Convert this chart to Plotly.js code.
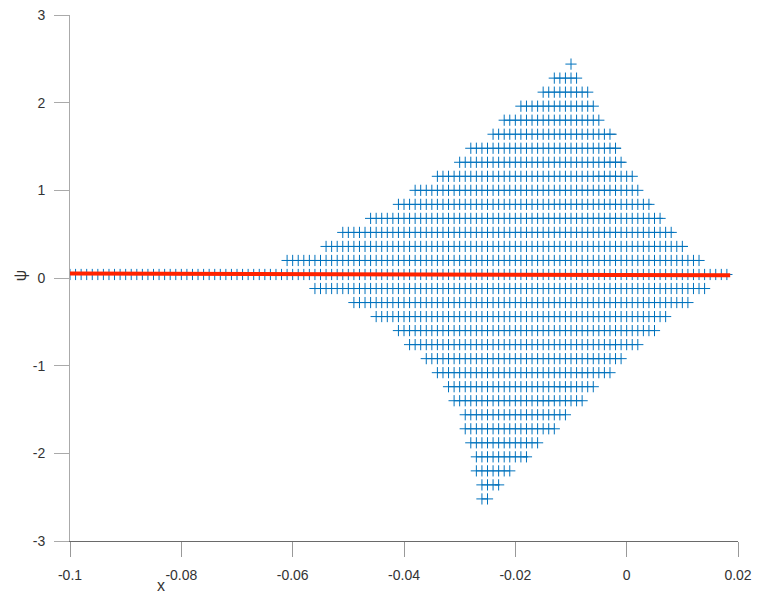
<!DOCTYPE html>
<html>
<head>
<meta charset="utf-8">
<script src="https://cdn.plot.ly/plotly-3.0.1.min.js"></script>
<style>html,body{margin:0;padding:0;background:#fff;}#chart{width:757px;height:596px;}</style>
</head>
<body>
<div id="chart"></div>
<script>
// ---- data ----
// Each row of "+" markers: psi level, first and last x (markers every 0.001 in x)
const rowPsi = [2.44, 2.28, 2.12, 1.96, 1.80, 1.64, 1.48, 1.32, 1.16, 1.00, 0.84, 0.68, 0.52, 0.36, 0.20, 0.04,
                -0.12, -0.28, -0.44, -0.60, -0.76, -0.92, -1.08, -1.24, -1.40, -1.56, -1.72, -1.88, -2.04, -2.20, -2.36, -2.52];
const rowXStart = [-0.010, -0.013, -0.015, -0.019, -0.022, -0.024, -0.028, -0.030, -0.034, -0.038, -0.041, -0.046, -0.051, -0.054, -0.061, -0.100,
                   -0.056, -0.049, -0.045, -0.041, -0.039, -0.036, -0.034, -0.032, -0.031, -0.029, -0.029, -0.028, -0.027, -0.027, -0.026, -0.026];
const rowXEnd = [-0.010, -0.009, -0.007, -0.006, -0.005, -0.003, -0.002, -0.001, 0.001, 0.002, 0.004, 0.006, 0.008, 0.010, 0.013, 0.018,
                 0.014, 0.011, 0.007, 0.005, 0.002, -0.001, -0.003, -0.006, -0.008, -0.011, -0.013, -0.016, -0.018, -0.021, -0.023, -0.025];
const markerStep = 0.001;

// darker horizontal runs inside some rows
const segPsi = [1.64, 1.48, 1.32, 1.16, 1.00, 0.84, 0.84, 0.68, 0.68, 0.52, 0.52, 0.36, 0.36, 0.20, 0.20,
                -0.12, -0.12, -0.12, -0.28, -0.28, -0.28, -0.44, -0.44, -0.60, -0.60, -0.76, -0.92, -1.08, -1.24, -1.40, -2.04, -2.36];
const segX0 = [-0.0036, -0.0036, -0.0036, -0.0057, -0.0088, -0.0138, 0.0035, -0.0178, 0.0055, -0.0200, 0.0075, 0.0002, 0.0092, -0.0027, 0.0095,
               -0.0097, 0.0068, 0.0126, -0.0190, 0.0034, 0.0084, -0.0160, 0.0024, -0.0100, -0.0007, -0.0036, -0.0068, -0.0088, -0.0126, -0.0158, -0.0187, -0.0237];
const segX1 = [-0.0018, -0.0010, -0.0002, -0.0018, -0.0018, -0.0018, 0.0045, -0.0018, 0.0065, -0.0009, 0.0085, 0.0054, 0.0110, 0.0054, 0.0127,
               0.0029, 0.0078, 0.0135, 0.0002, 0.0042, 0.0094, -0.0027, 0.0034, -0.0048, 0.0002, -0.0018, -0.0048, -0.0068, -0.0099, -0.0129, -0.0177, -0.0228];

// red line
const redX = [-0.1, 0.0186];
const redY = [0.05, 0.03];

// axis ticks
const xTickVals = [-0.1, -0.08, -0.06, -0.04, -0.02, 0, 0.02];
const xTickText = ['-0.1', '-0.08', '-0.06', '-0.04', '-0.02', '0', '0.02'];
const yTickVals = [-3, -2, -1, 0, 1, 2, 3];
const yTickText = ['-3', '-2', '-1', '0', '1', '2', '3'];

// ---- build traces ----
const px = [], py = [];
for (let i = 0; i < rowPsi.length; i++) {
  const n = Math.round((rowXEnd[i] - rowXStart[i]) / markerStep);
  for (let j = 0; j <= n; j++) {
    px.push(+(rowXStart[i] + j * markerStep).toFixed(4));
    py.push(rowPsi[i]);
  }
}
const sx = [], sy = [];
for (let i = 0; i < segPsi.length; i++) {
  sx.push(segX0[i], segX1[i], null);
  sy.push(segPsi[i], segPsi[i], null);
}

const blue = 'rgb(0,114,189)';
const traces = [
  {x: sx, y: sy, mode: 'lines', line: {color: 'rgb(0,95,160)', width: 1}, hoverinfo: 'skip', showlegend: false},
  {x: px, y: py, mode: 'markers', marker: {symbol: 'cross-thin', size: 8, line: {color: blue, width: 1}, color: blue}, showlegend: false},
  {x: redX, y: redY, mode: 'lines', line: {color: 'rgb(255,35,0)', width: 4}, showlegend: false}
];

const font = {family: '"Liberation Sans", Arial, Helvetica, sans-serif', size: 14, color: '#333'};
const layout = {
  width: 757, height: 596,
  margin: {l: 70, r: 19, t: 15, b: 55, pad: 0},
  paper_bgcolor: '#fff', plot_bgcolor: '#fff',
  font: font,
  showlegend: false,
  xaxis: {
    range: [-0.1, 0.02], tickmode: 'array', tickvals: xTickVals, ticktext: xTickText,
    showgrid: false, zeroline: false, showline: true, linecolor: '#6a6a6a', linewidth: 1,
    ticks: 'outside', ticklen: 15, tickcolor: '#999', tickwidth: 1, ticklabelstandoff: 6,
    tickfont: font
  },
  yaxis: {
    range: [-3, 3], tickmode: 'array', tickvals: yTickVals, ticktext: yTickText,
    showgrid: false, zeroline: false, showline: true, linecolor: '#aaa', linewidth: 1,
    ticks: 'outside', ticklen: 15, tickcolor: '#aaa', tickwidth: 1, ticklabelstandoff: 6,
    tickfont: font
  },
  annotations: [
    {text: 'x', xref: 'x', yref: 'paper', x: -0.0836, y: 0, yanchor: 'middle', xanchor: 'center', yshift: -44, showarrow: false,
     font: {family: font.family, size: 16, color: '#333'}},
    {text: 'ψ', xref: 'paper', yref: 'y', x: 0, y: 0.02, xanchor: 'center', yanchor: 'middle', xshift: -50, textangle: -90, showarrow: false,
     font: {family: font.family, size: 16, color: '#333'}}
  ]
};

Plotly.newPlot('chart', traces, layout, {staticPlot: true, displayModeBar: false});
</script>
</body>
</html>
